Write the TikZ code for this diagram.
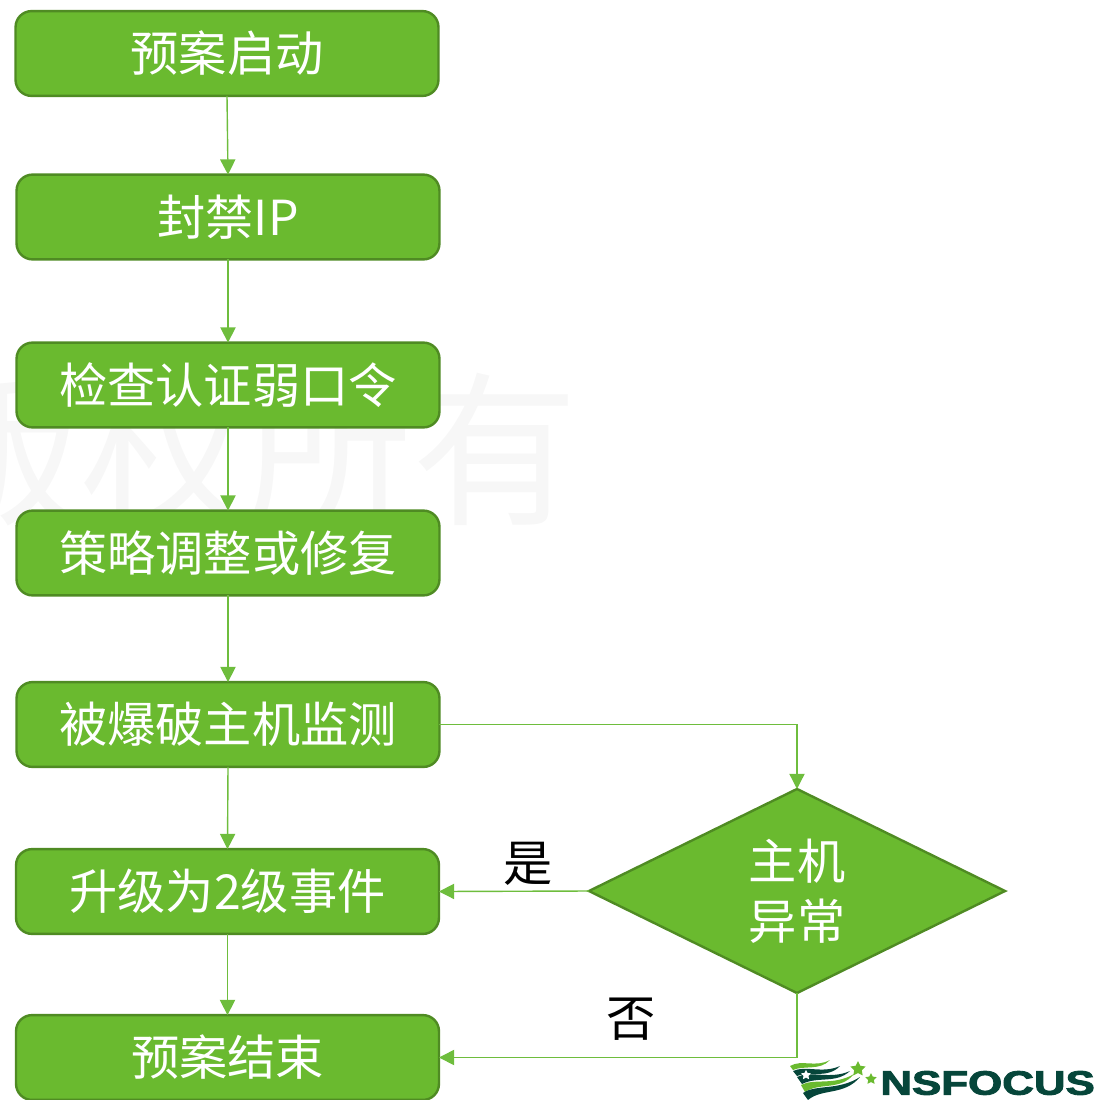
\documentclass[tikz,border=0pt]{standalone}
\usepackage{fontspec}
\setmainfont{Noto Sans CJK SC}
\newfontfamily\logofont[BoldFeatures={FakeBold=2.5}]{Liberation Sans}
\usetikzlibrary{shapes.geometric, arrows.meta}
\definecolor{boxgreen}{HTML}{6ABA2F}
\definecolor{boxedge}{HTML}{4F8B23}
\definecolor{linegreen}{HTML}{6EBD3D}
\definecolor{markgray}{HTML}{F7F7F7}
\definecolor{logodark}{HTML}{06463A}
\tikzset{
    stepbox/.style={draw=boxedge, fill=boxgreen, line width=.06cm, rounded corners=.4cm, outer sep=0pt,
        minimum width=10.57cm, minimum height=2.12cm, text=white, font=\fontsize{34.3}{40}\selectfont},
    flow/.style={draw=linegreen, line width=.035cm, -{Triangle[length=.38cm,width=.38cm]}},
    answer/.style={text=black, font=\fontsize{35}{40}\selectfont},
    logostar/.style={star, star points=5, star point ratio=2, fill=boxgreen, inner sep=0pt}
}

\begin{document}
\begin{tikzpicture}[x=.025cm, y=-.025cm]

\useasboundingbox (0,0) rectangle (1097,1100);

% watermark
\node[text=markgray, font=\fontsize{118}{130}\selectfont, inner sep=0pt] (mark) at (247,450) {版权所有};

\node[stepbox] (box1) at (227,53.5) {预案启动};
\node[stepbox] (box2) at (228,217) {封禁IP};
\node[stepbox] (box3) at (228,385) {检查认证弱口令};
\node[stepbox] (box4) at (228,553) {策略调整或修复};
\node[stepbox] (box5) at (228,724.5) {被爆破主机监测};
\node[stepbox] (box6) at (227.5,891.5) {升级为2级事件};
\node[stepbox] (box7) at (227.5,1057.5) {预案结束};

\node[diamond, draw=boxedge, fill=boxgreen, line width=.06cm, outer sep=0pt, inner sep=0pt, aspect=2.04,
    minimum width=10.4cm, minimum height=5.1cm, text=white, align=center,
    font=\fontsize{34.3}{42.5}\selectfont] (check) at (797,891) {主机\\异常};

\draw[flow] (box1.south) -- (box2.north);
\draw[flow] (box2.south) -- (box3.north);
\draw[flow] (box3.south) -- (box4.north);
\draw[flow] (box4.south) -- (box5.north);
\draw[flow] (box5.south) -- (box6.north);
\draw[flow] (box6.south) -- (box7.north);
\draw[flow] (box5.east) -| (check.north);
\draw[flow] (check.west) -- (box6.east);
\draw[flow] (check.south) |- (box7.east);

\node[answer] (yes) at (528,864) {是};
\node[answer] (no) at (631,1019) {否};

% logo
\fill[boxgreen] (790,1066) .. controls (802,1059) and (815,1068) .. (830,1060) .. controls (820,1071) and (804,1065) .. (793,1070) -- cycle;
\fill[logodark] (793,1071) .. controls (806,1065) and (822,1074) .. (840,1066) .. controls (828,1079) and (808,1071) .. (797,1076) -- cycle;
\fill[logodark] (797,1077) .. controls (810,1070) and (830,1080) .. (850,1071) .. controls (836,1084) and (818,1076) .. (802,1084) -- cycle;
\fill[boxgreen] (801,1085) .. controls (814,1078) and (834,1086) .. (854,1074) .. controls (840,1091) and (820,1082) .. (805,1092) -- cycle;
\fill[logodark] (803,1093) .. controls (816,1084) and (838,1091) .. (860,1077) .. controls (844,1096) and (822,1088) .. (808,1100) -- cycle;
\node[logostar, fill=white, minimum size=.26cm] (star0) at (806,1075) {};
\node[logostar, minimum size=.4cm] (star1) at (858,1069) {};
\node[logostar, minimum size=.3cm] (star2) at (871,1079) {};
\node[text=logodark, inner sep=0pt, anchor=west, xscale=1.3, font=\logofont\bfseries\fontsize{24}{24}\selectfont] (logo) at (880,1083) {NSFOCUS};

\end{tikzpicture}
\end{document}
